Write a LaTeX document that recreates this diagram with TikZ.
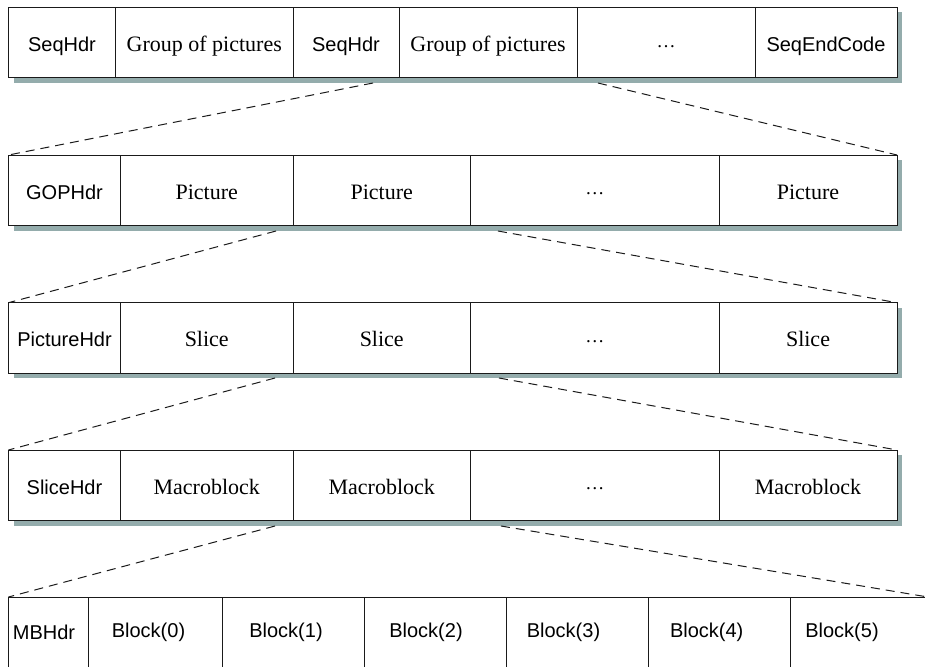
\documentclass[tikz,border=0pt]{standalone}
\usepackage{fontspec}
\setmainfont{Liberation Serif}
\setsansfont{Liberation Sans}
\definecolor{shadowc}{HTML}{94ACAC}
\definecolor{linec}{HTML}{1A1A1A}
\newcommand\mydots{\raisebox{4.5pt}{\fontsize{19}{22}\selectfont\ldots}}
\tikzset{
  cell/.style={draw=linec, line width=1pt, fill=white, inner sep=0pt, outer sep=0pt,
    anchor=north west, minimum height=70.5pt, text height=18pt, text depth=0pt,
    font=\fontsize{22}{26}\selectfont},
  sanscell/.style={cell, font=\sffamily\fontsize{20}{24}\selectfont},
  link/.style={draw=linec, line width=1pt, dash pattern=on 9pt off 6pt},
}
\begin{document}
\begin{tikzpicture}[x=1pt,y=-1pt]
\useasboundingbox (0,0) rectangle (925,666);
\clip (0,0) rectangle (925,666);
% shadows
\fill[shadowc] (13.5,12.5) rectangle (902,83);
\fill[shadowc] (13.5,160) rectangle (902,231);
\fill[shadowc] (13.5,307.7) rectangle (902,378);
\fill[shadowc] (13.5,455) rectangle (902,526);
% row 1
\node[sanscell, minimum width=107pt]   (a1) at (8.5,7.5) {SeqHdr};
\node[cell,     minimum width=177.5pt] (a2) at (115.5,7.5) {Group of pictures};
\node[sanscell, minimum width=106pt]   (a3) at (293,7.5) {SeqHdr};
\node[cell,     minimum width=178pt]   (a4) at (399,7.5) {Group of pictures};
\node[cell,     minimum width=178pt]   (a5) at (577,7.5) {\mydots};
\node[sanscell, minimum width=142pt]   (a6) at (755,7.5) {SeqEndCode};
% row 2
\node[sanscell, minimum width=112pt]   (b1) at (8.5,155) {GOPHdr};
\node[cell,     minimum width=172.5pt] (b2) at (120.5,155) {Picture};
\node[cell,     minimum width=177.5pt] (b3) at (293,155) {Picture};
\node[cell,     minimum width=248.5pt] (b4) at (470.5,155) {\mydots};
\node[cell,     minimum width=178pt]   (b5) at (719,155) {Picture};
% row 3
\node[sanscell, minimum width=112pt]   (c1) at (8.5,302.7) {PictureHdr};
\node[cell,     minimum width=172.5pt] (c2) at (120.5,302.7) {Slice};
\node[cell,     minimum width=177.5pt] (c3) at (293,302.7) {Slice};
\node[cell,     minimum width=248.5pt] (c4) at (470.5,302.7) {\mydots};
\node[cell,     minimum width=178pt]   (c5) at (719,302.7) {Slice};
% row 4
\node[sanscell, minimum width=112pt]   (d1) at (8.5,450) {SliceHdr};
\node[cell,     minimum width=172.5pt] (d2) at (120.5,450) {Macroblock};
\node[cell,     minimum width=177.5pt] (d3) at (293,450) {Macroblock};
\node[cell,     minimum width=248.5pt] (d4) at (470.5,450) {\mydots};
\node[cell,     minimum width=178pt]   (d5) at (719,450) {Macroblock};
% row 5
\node[sanscell, minimum width=79.5pt, minimum height=120pt] (e1) at (8.5,597) {};
\node[sanscell, minimum width=134pt, minimum height=120pt]  (e2) at (88,597) {};
\node[sanscell, minimum width=142pt, minimum height=120pt]  (e3) at (222,597) {};
\node[sanscell, minimum width=142pt, minimum height=120pt]  (e4) at (364,597) {};
\node[sanscell, minimum width=142pt, minimum height=120pt]  (e5) at (506,597) {};
\node[sanscell, minimum width=142pt, minimum height=120pt]  (e6) at (648,597) {};
\node[sanscell, minimum width=200pt, minimum height=120pt]  (e7) at (790,597) {};
\begin{scope}[font=\sffamily\fontsize{20}{24}\selectfont]
\node (t1) at (44,632) {MBHdr};
\node (t2) at (148.5,632) {Block(0)};
\node (t3) at (286,632) {Block(1)};
\node (t4) at (426,632) {Block(2)};
\node (t5) at (563.5,632) {Block(3)};
\node (t6) at (706.7,632) {Block(4)};
\node (t7) at (842,632) {Block(5)};
\end{scope}
% connectors
\coordinate (s1l) at (373,83);  \coordinate (s1r) at (598,83);
\coordinate (s2l) at (276,231); \coordinate (s2r) at (498,231);
\coordinate (s3l) at (275,378); \coordinate (s3r) at (499,378);
\coordinate (s4l) at (275,526); \coordinate (s4r) at (501,526);
\coordinate (e7end) at (925,596.5);
\draw[link] (s1l) -- (b1.north west);
\draw[link] (s1r) -- (b5.north east);
\draw[link] (s2l) -- (c1.north west);
\draw[link] (s2r) -- (c5.north east);
\draw[link] (s3l) -- (d1.north west);
\draw[link] (s3r) -- (d5.north east);
\draw[link] (s4l) -- (e1.north west);
\draw[link] (s4r) -- (e7end);
\end{tikzpicture}
\end{document}
